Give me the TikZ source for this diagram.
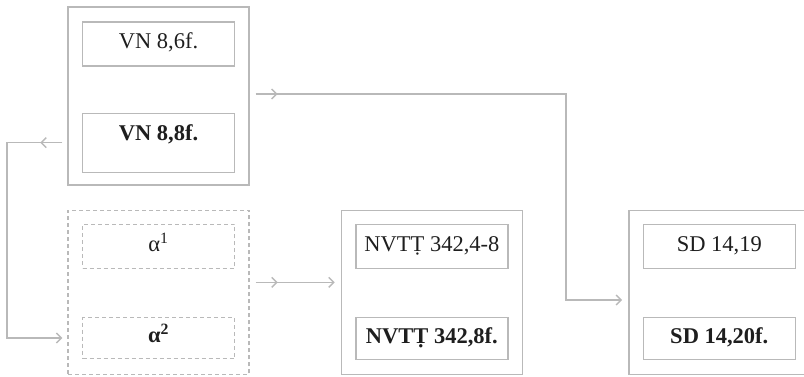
\documentclass[tikz,border=0pt]{standalone}
\usepackage{fontspec}
\setmainfont{Liberation Serif}
\usetikzlibrary{positioning,arrows.meta,decorations.markings}
\definecolor{LineGrey}{RGB}{185,185,185}
\definecolor{Ink}{RGB}{30,30,30}
\tikzset{
  outbox/.style={draw=LineGrey,line width=1.4pt,minimum width=181pt,
    minimum height=164pt,inner sep=0pt},
  inbox/.style={draw=LineGrey,line width=1.2pt,minimum width=152pt,
    inner sep=0pt,text height=27pt,text depth=17pt,text=Ink,
    font=\fontsize{22.5}{27}\selectfont},
  ghost/.style={dash pattern=on 4pt off 3pt},
  conn/.style={draw=LineGrey,line width=1.4pt,
    -{Straight Barb[length=5pt,width=10pt]},
    postaction={decorate},
    decoration={markings,
      mark=at position 22pt with {\arrow{Straight Barb[length=5pt,width=10pt]}}}}
}

\begin{document}
\begin{tikzpicture}
  \useasboundingbox (0,0) rectangle (804pt,376pt);

  \node[outbox,minimum height=178pt] (vn) at (158.5pt,280pt) {};
  \node[inbox,below=15pt of vn.north,anchor=north] (vna) {VN 8,6f.};
  \node[inbox,text depth=32pt,above=13pt of vn.south,anchor=south] (vnb)
    {\textbf{VN 8,8f.}};

  \node[outbox,ghost,below=24pt of vn] (al) {};
  \node[inbox,ghost,below=14pt of al.north,anchor=north] (ala)
    {α\textsuperscript{1}};
  \node[inbox,ghost,text height=25pt,text depth=16pt,above=16pt of al.south,
    anchor=south] (alb) {\textbf{α\textsuperscript{2}}};

  \node[outbox,right=91pt of al] (nv) {};
  \node[inbox,below=14pt of nv.north,anchor=north] (nva) {NVTṬ 342,4-8};
  \node[inbox,text height=26pt,text depth=16pt,above=15pt of nv.south,
    anchor=south] (nvb) {\textbf{NVTṬ 342,8f.}};

  \node[outbox,right=105pt of nv] (sd) {};
  \node[inbox,below=14pt of sd.north,anchor=north] (sda) {SD 14,19};
  \node[inbox,text height=26pt,text depth=16pt,above=15pt of sd.south,
    anchor=south] (sdb) {\textbf{SD 14,20f.}};

  \coordinate (loop) at (7pt,0pt);
  \coordinate (drop) at (566pt,76pt);

  \draw[conn] ([xshift=-5pt]vnb -| vn.west) -- (vnb -| loop)
    |- ([xshift=-5pt]alb -| al.west);
  \draw[conn] ([xshift=6pt,yshift=2pt]vn.east) -| (drop)
    -- ([xshift=-6pt]sd.west |- drop);
  \draw[conn] ([xshift=6pt,yshift=10pt]al.east)
    -- ([xshift=-6pt,yshift=10pt]nv.west);
\end{tikzpicture}
\end{document}
